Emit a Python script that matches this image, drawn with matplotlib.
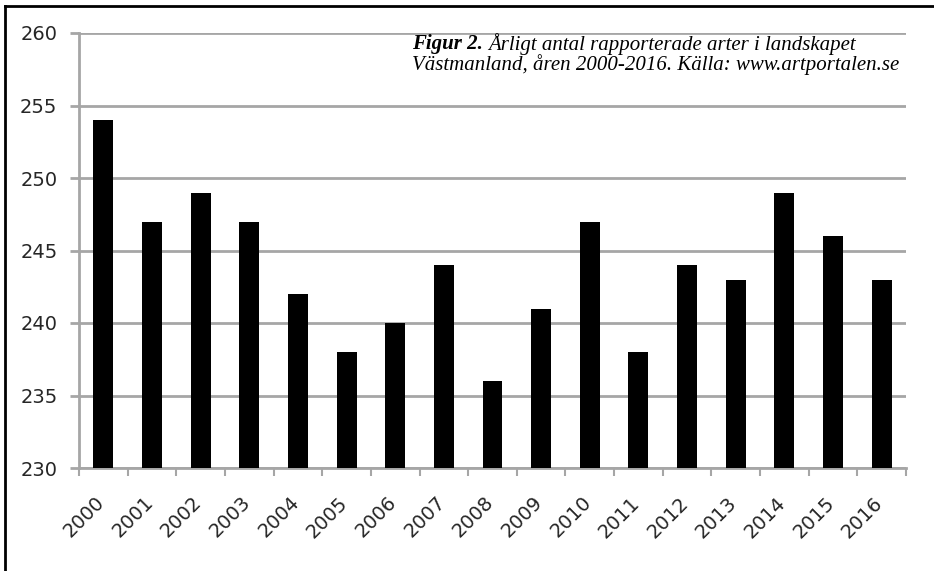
import numpy as np
import matplotlib
matplotlib.use('Agg')
import matplotlib.pyplot as plt
import matplotlib.transforms as mtrans
from matplotlib.lines import Line2D

# yearly number of reported species
years = ['2000', '2001', '2002', '2003', '2004', '2005', '2006', '2007', '2008',
         '2009', '2010', '2011', '2012', '2013', '2014', '2015', '2016']
n_species = [254, 247, 249, 247, 242, 238, 240, 244, 236,
             241, 247, 238, 244, 243, 249, 246, 243]
y_ticks = [230, 235, 240, 245, 250, 255, 260]

gridcol = '#a6a6a6'
labcol = '#262626'
W, H = 934., 571.

fig = plt.figure(figsize=(9.34, 5.71), dpi=100)
fig.patch.set_facecolor('w')
ax = fig.add_axes([79/W, 1-468/H, (906-79)/W, (468-33)/H])

ind = np.arange(len(years))
ax.bar(ind, np.array(n_species) - 230, width=0.41, bottom=230, color='k', zorder=3)

ax.set_xlim(-0.5, len(years)-0.5)
ax.set_ylim(230, 260)
ax.set_yticks(y_ticks)
ax.yaxis.grid(True, color=gridcol, lw=2, zorder=0)

for sp in ['top', 'right']:
    ax.spines[sp].set_visible(False)
for sp in ['left', 'bottom']:
    ax.spines[sp].set_color(gridcol)
    ax.spines[sp].set_linewidth(2)

# year labels at the centres, tick marks between categories
ax.set_xticks(ind)
ax.set_xticklabels(years, rotation=45, ha='right')
ax.set_xticks(np.arange(len(years)+1)-0.5, minor=True)
ax.tick_params(axis='x', which='major', length=0, pad=18, labelsize=14, labelcolor=labcol)
ax.tick_params(axis='x', which='minor', length=5.5, width=1.5, color=gridcol)
ax.tick_params(axis='y', length=6.5, width=2, color=gridcol, pad=9, labelsize=14, labelcolor=labcol)
shift = mtrans.ScaledTranslation(5/100., 0, fig.dpi_scale_trans)
for lab in ax.get_xticklabels():
    lab.set_transform(lab.get_transform() + shift)

# caption inside plot
x0 = 412/W
fs = 15
t1 = fig.text(x0, 1-44/H, 'Figur 2.', family='Liberation Serif', style='italic', weight='bold',
              fontsize=fs, va='center', ha='left')
fig.canvas.draw()
bb = t1.get_window_extent()
fig.text(bb.x1/W + 5/W, 1-44/H, u'Årligt antal rapporterade arter i landskapet', family='Liberation Serif',
         style='italic', fontsize=fs, va='center', ha='left')
fig.text(x0, 1-65/H, u'Västmanland, åren 2000-2016. Källa: www.artportalen.se', family='Liberation Serif',
         style='italic', fontsize=fs, va='center', ha='left')

# frame on top and left
fig.add_artist(Line2D([5/W, 5/W], [0, 1-6/H], transform=fig.transFigure, color='k', lw=2))
fig.add_artist(Line2D([5/W, 1], [1-6/H, 1-6/H], transform=fig.transFigure, color='k', lw=2))

fig.savefig('out.png', dpi=100)
